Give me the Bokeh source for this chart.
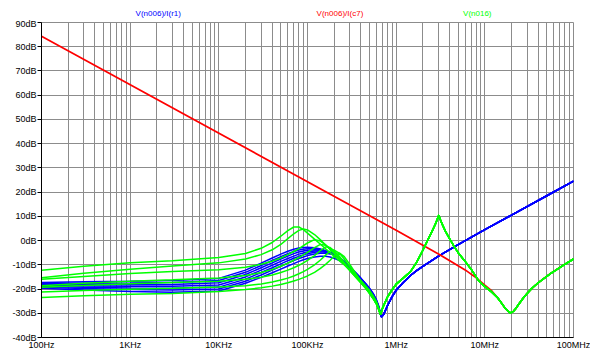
from bokeh.plotting import figure
from bokeh.layouts import column
from bokeh.models import Range1d, FixedTicker, CustomJSTickFormatter
from bokeh.core.properties import value
from bokeh.embed import file_html
from bokeh.resources import INLINE

# ---------------- data ----------------
x_ticks = [1e2, 1e3, 1e4, 1e5, 1e6, 1e7, 1e8]
x_tick_labels = ["100Hz", "1KHz", "10KHz", "100KHz", "1MHz", "10MHz", "100MHz"]
y_ticks = [-40, -30, -20, -10, 0, 10, 20, 30, 40, 50, 60, 70, 80, 90]

trace_names = ["V(n006)/I(r1)", "V(n006)/I(c7)", "V(n016)"]

# low-frequency part shared grid for stepped curves
freq_lo = [100, 300, 1e3, 3e3, 1e4, 2e4, 3e4, 4e4, 5e4, 6e4, 7e4, 8e4, 9e4, 1e5,
           1.2e5, 1.4e5, 1.6e5, 1.8e5, 2e5, 2.3e5, 2.6e5, 3e5, 3.5e5, 4e5, 4.5e5,
           5e5, 5.5e5, 6e5, 6.3e5]

# V(n006)/I(r1) - blue family
blue_1 = [-17.3, -17.0, -16.8, -16.5, -15.6, -12.2, -9.3, -7.2, -5.6, -4.4, -3.6, -3.1, -2.9, -2.8,
          -3.0, -3.5, -4.2, -5.0, -5.9, -7.4, -8.9, -11.0, -13.4, -15.6, -17.6, -19.6, -21.8, -24.5, -26.6]
blue_2 = [-17.7, -17.6, -17.5, -17.3, -16.5, -13.1, -10.3, -8.2, -6.6, -5.4, -4.5, -3.9, -3.6, -3.4,
          -3.4, -3.7, -4.3, -5.0, -5.8, -7.3, -8.8, -10.9, -13.3, -15.6, -17.7, -19.8, -22.0, -24.7, -26.8]
blue_3 = [-18.1, -18.2, -18.2, -18.1, -17.4, -14.0, -11.2, -9.2, -7.6, -6.4, -5.4, -4.7, -4.3, -4.0,
          -3.8, -3.9, -4.3, -4.9, -5.7, -7.1, -8.7, -10.9, -13.4, -15.7, -17.9, -20.0, -22.2, -24.9, -27.0]
blue_4 = [-18.5, -18.7, -18.9, -18.9, -18.3, -15.0, -12.2, -10.2, -8.6, -7.4, -6.4, -5.6, -5.1, -4.7,
          -4.3, -4.2, -4.5, -5.0, -5.7, -7.0, -8.6, -10.9, -13.5, -15.8, -18.0, -20.2, -22.4, -25.1, -27.2]
blue_5 = [-18.9, -19.3, -19.6, -19.7, -19.2, -15.9, -13.2, -11.2, -9.6, -8.3, -7.3, -6.5, -5.9, -5.4,
          -4.8, -4.6, -4.8, -5.2, -5.8, -7.1, -8.7, -11.0, -13.6, -16.0, -18.2, -20.4, -22.6, -25.3, -27.4]
blue_6 = [-19.3, -19.8, -20.2, -20.4, -20.0, -16.8, -14.2, -12.2, -10.6, -9.3, -8.2, -7.4, -6.8, -6.2,
          -5.5, -5.2, -5.2, -5.5, -6.0, -7.2, -8.8, -11.2, -13.8, -16.2, -18.4, -20.6, -22.8, -25.5, -27.6]
blue_7 = [-19.7, -20.4, -21.0, -21.3, -20.8, -17.6, -15.2, -13.3, -11.8, -10.5, -9.5, -8.6, -7.9, -7.4,
          -6.8, -6.5, -6.5, -6.8, -7.3, -8.3, -9.7, -11.9, -14.4, -16.7, -18.9, -21.0, -23.2, -25.8, -27.9]
freq_blue_hi = [6.8e5, 7.2e5, 8e5, 9e5, 1e6, 1.2e6, 1.45e6, 1.7e6, 2e6, 3e6, 5e6, 1e7, 2e7, 5e7, 1e8]
blue_hi = [-31.5, -30.6, -26.8, -23.1, -20.5, -17.3, -14.4, -12.4, -10.6, -6.4, -1.7, 4.5, 10.5, 18.5, 24.5]

# V(n006)/I(c7) - red
freq_red = [100, 1e6, 3e6, 6e6, 8e6, 1e7, 1.2e7, 1.4e7, 1.55e7, 1.7e7, 1.9e7, 1.95e7, 2.1e7,
            2.25e7, 2.4e7, 2.7e7, 3e7, 3.4e7, 4e7, 5.5e7, 7.5e7, 1e8]
red = [84.3, 4.3, -5.5, -12.1, -15.4, -18.4, -20.8, -23.7, -25.9, -28.0, -29.7, -29.8, -29.2,
       -27.9, -26.4, -23.8, -21.8, -19.7, -17.4, -13.6, -10.4, -7.6]

# V(n016) - green family
green_1 = [-12.2, -10.6, -9.2, -8.3, -7.0, -5.3, -3.2, -0.8, 1.8, 4.1, 5.6, 5.6, 4.5, 3.1,
           0.6, -1.5, -3.4, -5.0, -6.5, -8.4, -10.1, -12.2, -14.5, -16.5, -18.5, -20.5, -22.7, -25.2, -27.3]
green_2 = [-15.3, -13.5, -11.8, -10.5, -9.2, -7.6, -5.8, -3.8, -1.6, 0.8, 2.8, 4.2, 4.8, 4.4,
           2.5, 0.3, -1.8, -3.7, -5.4, -7.6, -9.6, -12.0, -14.6, -16.8, -18.9, -21.0, -23.2, -25.6, -27.6]
green_3 = [-16.0, -14.8, -13.6, -12.8, -12.0, -11.0, -9.8, -8.5, -7.2, -5.8, -4.5, -3.3, -2.1, -1.0,
           0.4, -0.2, -1.8, -3.6, -5.3, -7.7, -9.8, -12.4, -15.0, -17.3, -19.4, -21.5, -23.6, -26.0, -27.9]
green_4 = [-18.6, -17.6, -16.8, -16.2, -15.4, -14.4, -13.2, -11.9, -10.6, -9.3, -8.1, -7.0, -5.9, -4.9,
           -2.9, -1.6, -1.9, -3.2, -4.8, -7.3, -9.6, -12.3, -15.1, -17.5, -19.6, -21.7, -23.8, -26.1, -28.0]
green_5 = [-19.3, -18.5, -17.8, -17.3, -16.8, -16.0, -15.1, -14.2, -13.2, -12.2, -11.2, -10.2, -9.2, -8.2,
           -6.2, -4.1, -2.6, -2.9, -4.2, -6.6, -9.0, -11.9, -14.9, -17.4, -19.6, -21.8, -23.9, -26.2, -28.0]
green_6 = [-21.2, -20.6, -20.1, -19.7, -19.2, -18.6, -17.9, -17.1, -16.3, -15.5, -14.6, -13.7, -12.8, -11.9,
           -10.0, -8.0, -6.0, -4.3, -3.9, -5.3, -7.6, -10.8, -14.2, -17.0, -19.4, -21.7, -23.9, -26.2, -28.1]
green_7 = [-23.5, -22.8, -22.2, -21.8, -21.0, -20.2, -19.5, -18.8, -18.1, -17.4, -16.7, -16.0, -15.3, -14.6,
           -13.1, -11.5, -9.8, -8.1, -6.4, -5.2, -6.6, -9.8, -13.6, -16.7, -19.3, -21.7, -24.0, -26.3, -28.2]
freq_green_hi = [6.65e5, 7e5, 8e5, 9e5, 1e6, 1.2e6, 1.45e6, 1.7e6, 2e6, 2.3e6, 2.6e6, 2.8e6, 2.95e6,
                 3.03e6, 3.12e6, 3.3e6, 3.6e6, 4e6, 4.5e6, 5e6, 6e6, 7e6, 8.5e6, 1e7, 1.2e7, 1.4e7,
                 1.55e7, 1.7e7, 1.9e7, 1.95e7, 2.1e7, 2.25e7, 2.4e7, 2.7e7, 3e7, 3.4e7, 4e7, 5.5e7, 7.5e7, 1e8]
green_hi = [-30.5, -28.0, -23.2, -20.3, -18.0, -15.5, -12.8, -9.0, -4.0, 0.6, 4.6, 7.2, 9.4,
            10.5, 9.0, 6.8, 3.8, 0.8, -2.4, -5.0, -8.6, -11.8, -16.5, -19.0, -21.3, -23.7,
            -25.9, -28.0, -29.7, -29.8, -29.2, -27.9, -26.4, -23.8, -21.8, -19.7, -17.4, -13.6, -10.4, -7.6]

blue_curves = [blue_1, blue_2, blue_3, blue_4, blue_5, blue_6, blue_7]
green_curves = [green_1, green_2, green_3, green_4, green_5, green_6, green_7]

BLUE = "#0000ff"
RED = "#ff0000"
GREEN = "#00ff00"
GRID = "#8c8c8c"
FONT = "Liberation Sans"
W = 590
TOP_H = 18

# ---------------- title strip (trace names) ----------------
top = figure(width=W, height=TOP_H, x_range=Range1d(0, W), y_range=Range1d(0, TOP_H),
             output_backend="svg", toolbar_location=None,
             x_axis_location=None, y_axis_location=None,
             min_border=0, min_border_left=0, min_border_right=0,
             min_border_top=0, min_border_bottom=0)
top.grid.visible = False
top.outline_line_color = None
top.background_fill_color = "white"
top.border_fill_color = "white"
top.text(x=[129.5, 331, 483.3], y=[4.6, 4.6, 4.6], text=trace_names,
         text_color=[BLUE, RED, GREEN], text_font=value(FONT), text_font_size=value("8px"),
         text_align="center", text_baseline="middle")

# ---------------- main plot ----------------
p = figure(width=W, height=352 - TOP_H, x_axis_type="log",
           x_range=Range1d(1e2, 1e8), y_range=Range1d(-40, 90),
           output_backend="svg", toolbar_location=None,
           min_border_left=41, min_border_right=17, min_border_top=22 - TOP_H, min_border_bottom=13)
p.background_fill_color = "white"
p.border_fill_color = "white"
p.outline_line_color = GRID

p.xaxis.ticker = FixedTicker(ticks=x_ticks,
                             minor_ticks=[m * 10 ** k for k in range(2, 8) for m in range(2, 10)])
p.xaxis.formatter = CustomJSTickFormatter(args=dict(vals=x_ticks, labels=x_tick_labels), code="""
    for (let i = 0; i < vals.length; i++) {
        if (Math.abs(Math.log10(tick) - Math.log10(vals[i])) < 1e-6) { return labels[i]; }
    }
    return "";
""")
p.yaxis.ticker = FixedTicker(ticks=y_ticks)
p.yaxis.formatter = CustomJSTickFormatter(code="return tick.toFixed(0) + 'dB';")

for ax in (p.xaxis, p.yaxis):
    ax.axis_line_color = "black"
    ax.axis_line_width = 1
    ax.major_tick_in = 0
    ax.minor_tick_in = 0
    ax.minor_tick_out = 0
    ax.major_label_text_font = FONT
    ax.major_label_text_font_size = "9px"
    ax.major_label_text_color = "black"
    ax.major_tick_line_color = "black"
p.xaxis.major_tick_out = 0
p.xaxis.major_label_standoff = 2
p.yaxis.major_tick_out = 4
p.yaxis.major_label_standoff = 1

p.xgrid.grid_line_color = GRID
p.xgrid.minor_grid_line_color = GRID
p.ygrid.grid_line_color = GRID
p.xgrid.grid_line_width = 1
p.xgrid.minor_grid_line_width = 1
p.ygrid.grid_line_width = 1

# traces: blue, red, green (green on top)
for yb in blue_curves:
    p.line(freq_lo + freq_blue_hi, yb + blue_hi, line_color=BLUE, line_width=1.5)
p.line(freq_red, red, line_color=RED, line_width=1.7)
for yg in green_curves:
    p.line(freq_lo + freq_green_hi, yg + green_hi, line_color=GREEN, line_width=1.5)

layout = column(top, p, spacing=0)
open("out.html", "w").write(file_html(layout, INLINE))
